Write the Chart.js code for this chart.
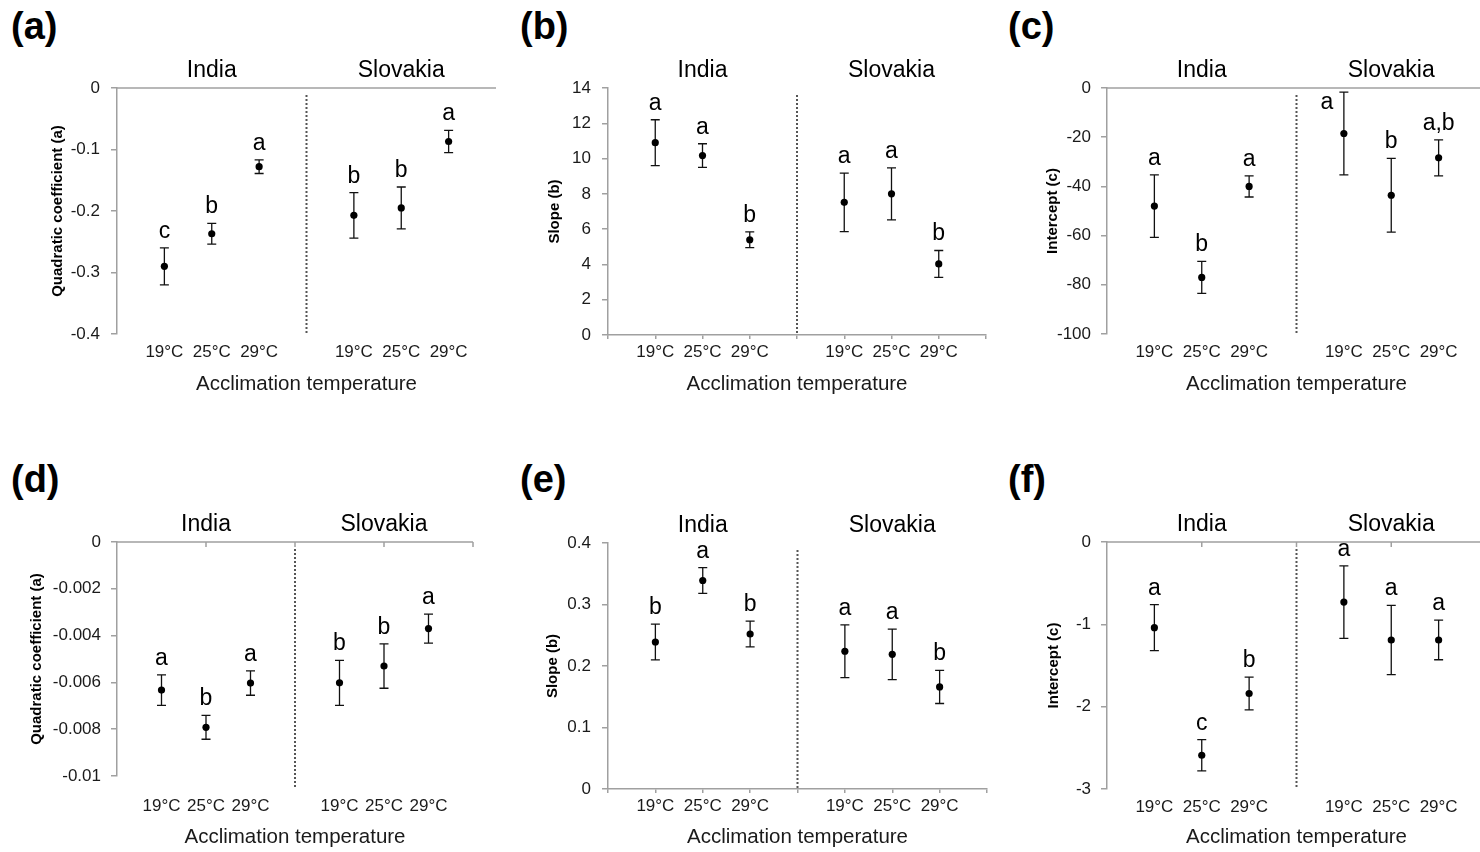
<!DOCTYPE html>
<html>
<head>
<meta charset="utf-8">
<script src="https://cdn.jsdelivr.net/npm/chart.js@4"></script>
<style>
  html, body { margin: 0; padding: 0; background: #fff; }
  body { position: relative; width: 1480px; height: 852px; overflow: hidden; font-family: "Liberation Sans", Arial, sans-serif; }
  canvas { position: absolute; }
  .tag { position: absolute; font: bold 38px/1 "Liberation Sans", Arial, sans-serif; color: #000; }
</style>
</head>
<body>
<div class="tag" style="left:11px;top:7px">(a)</div>
<div class="tag" style="left:520px;top:7px">(b)</div>
<div class="tag" style="left:1008px;top:7px">(c)</div>
<div class="tag" style="left:11px;top:460px">(d)</div>
<div class="tag" style="left:520px;top:460px">(e)</div>
<div class="tag" style="left:1008px;top:460px">(f)</div>

<canvas id="pa"></canvas>
<canvas id="pb"></canvas>
<canvas id="pc"></canvas>
<canvas id="pd"></canvas>
<canvas id="pe"></canvas>
<canvas id="pf"></canvas>

<script>
// ---- data ----
const temps = ['19°C', '25°C', '29°C'];
const groups = ['India', 'Slovakia'];
const xTitle = 'Acclimation temperature';

// (a) quadratic coefficient
const aTitle = 'Quadratic coefficient (a)';
const aTicks = [-0.4, -0.3, -0.2, -0.1, 0];
const aIndia = [-0.290, -0.237, -0.128];
const aIndiaErr = [0.030, 0.017, 0.011];
const aSlovakia = [-0.207, -0.195, -0.087];
const aSlovakiaErr = [0.037, 0.034, 0.018];
const aLetters = ['c', 'b', 'a', 'b', 'b', 'a'];

// (b) slope
const bTitle = 'Slope (b)';
const bTicks = [0, 2, 4, 6, 8, 10, 12, 14];
const bIndia = [10.9, 10.17, 5.4];
const bIndiaErr = [1.3, 0.67, 0.45];
const bSlovakia = [7.52, 8.0, 4.03];
const bSlovakiaErr = [1.66, 1.47, 0.76];
const bLetters = ['a', 'a', 'b', 'a', 'a', 'b'];

// (c) intercept
const cTitle = 'Intercept (c)';
const cTicks = [-100, -80, -60, -40, -20, 0];
const cIndia = [-48.0, -77.0, -40.0];
const cIndiaErr = [12.7, 6.5, 4.3];
const cSlovakia = [-18.5, -43.6, -28.4];
const cSlovakiaErr = [16.8, 15.0, 7.3];
const cLetters = ['a', 'b', 'a', 'a', 'b', 'a,b'];

// (d) quadratic coefficient
const dTitle = 'Quadratic coefficient (a)';
const dTicks = [-0.01, -0.008, -0.006, -0.004, -0.002, 0];
const dIndia = [-0.00633, -0.00792, -0.00603];
const dIndiaErr = [0.00065, 0.00051, 0.00052];
const dSlovakia = [-0.00602, -0.00530, -0.00370];
const dSlovakiaErr = [0.00096, 0.00095, 0.00062];
const dLetters = ['a', 'b', 'a', 'b', 'b', 'a'];

// (e) slope
const eTitle = 'Slope (b)';
const eTicks = [0, 0.1, 0.2, 0.3, 0.4];
const eIndia = [0.239, 0.339, 0.252];
const eIndiaErr = [0.029, 0.021, 0.021];
const eSlovakia = [0.224, 0.219, 0.166];
const eSlovakiaErr = [0.043, 0.041, 0.027];
const eLetters = ['b', 'a', 'b', 'a', 'a', 'b'];

// (f) intercept
const fTitle = 'Intercept (c)';
const fTicks = [-3, -2, -1, 0];
const fIndia = [-1.04, -2.59, -1.84];
const fIndiaErr = [0.28, 0.19, 0.20];
const fSlovakia = [-0.73, -1.19, -1.19];
const fSlovakiaErr = [0.44, 0.42, 0.24];
const fLetters = ['a', 'c', 'b', 'a', 'a', 'a'];

// ---- drawing ----
const FONT = '"Liberation Sans", Arial, sans-serif';
const AXIS = '#a0a0a0';
const INK = '#1a1a1a';

// blank slot, 3 temps, blank slot (divider), 3 temps, blank slot
const axisLabels = ['', ...temps, '', ...temps, ''];
const spread = (india, slovakia) => [null, ...india, null, ...slovakia, null];

function marks(p) {
    return {
        id: 'marks',
        beforeDatasetsDraw(chart) {
            const { ctx, chartArea: a, scales: { x, y } } = chart;
            ctx.save();

            // dotted divider between the populations
            const xd = x.getPixelForValue(temps.length + 1);
            ctx.strokeStyle = '#555';
            ctx.lineWidth = 2;
            ctx.setLineDash([2, 2]);
            ctx.beginPath();
            ctx.moveTo(xd, a.top + 7);
            ctx.lineTo(xd, a.bottom + p.dividerExtra);
            ctx.stroke();
            ctx.setLineDash([]);

            // zero line on top when all values are negative
            if (p.zeroOnTop) {
                const y0 = y.getPixelForValue(0);
                ctx.strokeStyle = AXIS;
                ctx.lineWidth = 1.5;
                ctx.beginPath();
                ctx.moveTo(a.left, y0);
                ctx.lineTo(a.right, y0);
                if (p.topTicks) {
                    for (let i = 2; i < axisLabels.length; i += 2) {
                        const xt = x.getPixelForValue(i);
                        ctx.moveTo(xt, y0);
                        ctx.lineTo(xt, y0 + 5);
                    }
                }
                ctx.stroke();
            }

            // error bars
            const meta = chart.getDatasetMeta(0);
            ctx.strokeStyle = '#111';
            ctx.lineWidth = 1.3;
            p.values.forEach((v, i) => {
                if (v == null) return;
                const px = meta.data[i].x;
                const yt = y.getPixelForValue(v + p.errs[i]);
                const yb = y.getPixelForValue(v - p.errs[i]);
                ctx.beginPath();
                ctx.moveTo(px, yt); ctx.lineTo(px, yb);
                ctx.moveTo(px - 4.5, yt); ctx.lineTo(px + 4.5, yt);
                ctx.moveTo(px - 4.5, yb); ctx.lineTo(px + 4.5, yb);
                ctx.stroke();
            });
            ctx.restore();
        },
        afterDatasetsDraw(chart) {
            const { ctx, chartArea: a, scales: { x, y } } = chart;
            const meta = chart.getDatasetMeta(0);
            ctx.save();
            ctx.fillStyle = '#000';
            ctx.font = '23px ' + FONT;
            ctx.textAlign = 'center';

            // population names
            ctx.textBaseline = 'middle';
            groups.forEach((g, gi) => {
                const idx = gi * (temps.length + 1) + 1 + (temps.length - 1) / 2;
                ctx.fillText(g, x.getPixelForValue(idx), a.top - 17);
            });

            // significance letters
            ctx.textBaseline = 'alphabetic';
            p.letters.forEach((t, i) => {
                if (t == null) return;
                const px = meta.data[i].x;
                const yt = y.getPixelForValue(p.values[i] + p.errs[i]);
                let base = yt - 10;
                let lx = px;
                if (base < a.top) {
                    // no room above: put the letter beside the bar
                    lx = px - 17;
                    base = meta.data[i].y - 25;
                }
                ctx.fillText(t, lx, base);
            });
            ctx.restore();
        }
    };
}

function makePanel(id, p) {
    const cv = document.getElementById(id);
    cv.width = p.w;
    cv.height = p.h;
    cv.style.left = p.left + 'px';
    cv.style.top = p.top + 'px';

    p.values = spread(p.india, p.slovakia);
    p.errs = spread(p.indiaErr, p.slovakiaErr);
    p.letters = [null, ...p.letterList.slice(0, 3), null, ...p.letterList.slice(3), null];
    p.zeroOnTop = Math.max(...p.ticks) === 0;

    new Chart(cv, {
        type: 'line',
        data: {
            labels: axisLabels,
            datasets: [{
                data: p.values,
                showLine: false,
                pointRadius: 3.6,
                pointHoverRadius: 3.6,
                pointBorderWidth: 0,
                pointBackgroundColor: '#000'
            }]
        },
        options: {
            responsive: false,
            animation: false,
            events: [],
            layout: { padding: { top: p.padTop, right: p.padRight, left: 0, bottom: 0 } },
            plugins: { legend: { display: false }, tooltip: { enabled: false } },
            scales: {
                x: {
                    type: 'category',
                    offset: false,
                    afterFit: s => { s.height = p.xh; },
                    border: { display: !p.zeroOnTop, color: AXIS, width: 1.5 },
                    grid: {
                        drawOnChartArea: false,
                        drawTicks: true,
                        tickLength: 4,
                        color: p.zeroOnTop ? 'rgba(0,0,0,0)' : AXIS,
                        lineWidth: 1.5
                    },
                    ticks: {
                        autoSkip: false,
                        maxRotation: 0,
                        padding: p.xPad,
                        color: INK,
                        font: { family: FONT, size: 17 }
                    },
                    title: {
                        display: true,
                        text: xTitle,
                        color: INK,
                        font: { family: FONT, size: 20.5 },
                        padding: { top: 0, bottom: p.xTitlePad }
                    }
                },
                y: {
                    type: 'linear',
                    min: Math.min(...p.ticks),
                    max: Math.max(...p.ticks),
                    afterFit: s => { s.width = p.yw; },
                    afterBuildTicks: s => { s.ticks = p.ticks.map(v => ({ value: v })); },
                    border: { display: true, color: AXIS, width: 1.5 },
                    grid: {
                        drawOnChartArea: false,
                        drawTicks: true,
                        tickLength: 6,
                        color: AXIS,
                        lineWidth: 1.5
                    },
                    ticks: {
                        padding: p.yPad,
                        color: INK,
                        font: { family: FONT, size: 17 },
                        callback: v => String(v)
                    },
                    title: {
                        display: true,
                        text: p.title,
                        color: '#000',
                        font: { family: FONT, size: 15, weight: 'bold' },
                        padding: { top: p.yTitlePad, bottom: 0 }
                    }
                }
            }
        },
        plugins: [marks(p)]
    });
}

makePanel('pa', {
    title: aTitle, ticks: aTicks, india: aIndia, indiaErr: aIndiaErr,
    slovakia: aSlovakia, slovakiaErr: aSlovakiaErr, letterList: aLetters,
    left: 0, top: 0, w: 500, h: 410, yw: 117, padTop: 88, padRight: 3, xh: 76,
    xPad: 4, yPad: 11, yTitlePad: 49, xTitlePad: 13, topTicks: false, dividerExtra: -1
});
makePanel('pb', {
    title: bTitle, ticks: bTicks, india: bIndia, indiaErr: bIndiaErr,
    slovakia: bSlovakia, slovakiaErr: bSlovakiaErr, letterList: bLetters,
    left: 500, top: 0, w: 495, h: 410, yw: 108, padTop: 88, padRight: 9, xh: 75,
    xPad: 3, yPad: 11, yTitlePad: 46, xTitlePad: 13, topTicks: false, dividerExtra: -2
});
makePanel('pc', {
    title: cTitle, ticks: cTicks, india: cIndia, indiaErr: cIndiaErr,
    slovakia: cSlovakia, slovakiaErr: cSlovakiaErr, letterList: cLetters,
    left: 990, top: 0, w: 500, h: 410, yw: 117, padTop: 88, padRight: 4, xh: 76,
    xPad: 4, yPad: 10, yTitlePad: 54, xTitlePad: 13, topTicks: false, dividerExtra: -1
});
makePanel('pd', {
    title: dTitle, ticks: dTicks, india: dIndia, indiaErr: dIndiaErr,
    slovakia: dSlovakia, slovakiaErr: dSlovakiaErr, letterList: dLetters,
    left: 0, top: 450, w: 500, h: 402, yw: 117, padTop: 92, padRight: 27, xh: 76,
    xPad: 16, yPad: 10, yTitlePad: 28, xTitlePad: 2, topTicks: true, dividerExtra: 12
});
makePanel('pe', {
    title: eTitle, ticks: eTicks, india: eIndia, indiaErr: eIndiaErr,
    slovakia: eSlovakia, slovakiaErr: eSlovakiaErr, letterList: eLetters,
    left: 500, top: 450, w: 495, h: 402, yw: 108, padTop: 93, padRight: 8, xh: 63,
    xPad: 3, yPad: 11, yTitlePad: 44, xTitlePad: 2, topTicks: false, dividerExtra: 1
});
makePanel('pf', {
    title: fTitle, ticks: fTicks, india: fIndia, indiaErr: fIndiaErr,
    slovakia: fSlovakia, slovakiaErr: fSlovakiaErr, letterList: fLetters,
    left: 990, top: 450, w: 500, h: 402, yw: 117, padTop: 92, padRight: 4, xh: 63,
    xPad: 4, yPad: 10, yTitlePad: 55, xTitlePad: 2, topTicks: true, dividerExtra: -1
});
</script>
</body>
</html>
